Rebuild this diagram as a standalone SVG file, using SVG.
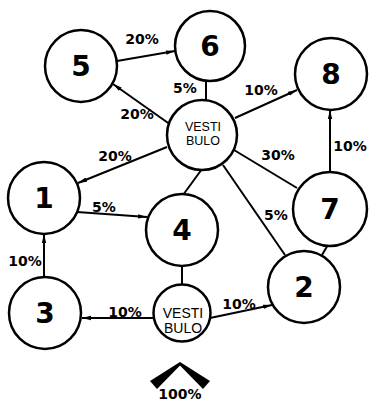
<svg xmlns="http://www.w3.org/2000/svg" width="369" height="403" viewBox="0 0 369 403">
<style>
.n{fill:#fff;stroke:#000;stroke-width:2.5}
.num{font-family:"DejaVu Sans",sans-serif;font-weight:bold;font-size:28px;text-anchor:middle;fill:#000}
.v{font-family:"Liberation Sans",Arial,sans-serif;font-size:12.5px;text-anchor:middle;fill:#000}
.v2{font-family:"Liberation Sans",Arial,sans-serif;font-size:14px;text-anchor:middle;fill:#000}
.l{font-family:"DejaVu Sans",sans-serif;font-weight:bold;font-size:14px;text-anchor:middle;fill:#000}
.c{stroke:#000;stroke-width:2;fill:none}
</style>
<defs>
<marker id="a" markerUnits="userSpaceOnUse" markerWidth="10" markerHeight="6" refX="9" refY="3" orient="auto">
<path d="M0,0.8 L9,3 L0,5.2 Z" fill="#000"/>
</marker>
</defs>
<g id="connectors">
<line class="c" x1="117" y1="61" x2="175" y2="51" marker-end="url(#a)"/>
<line class="c" x1="171" y1="125" x2="113" y2="84" marker-end="url(#a)"/>
<line class="c" x1="167" y1="147" x2="78" y2="183" marker-end="url(#a)"/>
<line class="c" x1="206" y1="100" x2="206" y2="81"/>
<line class="c" x1="235" y1="118" x2="297" y2="90" marker-end="url(#a)"/>
<line class="c" x1="234" y1="150" x2="297" y2="188"/>
<line class="c" x1="202" y1="169" x2="183" y2="195"/>
<line class="c" x1="223" y1="165" x2="285" y2="255"/>
<line class="c" x1="77" y1="212" x2="147" y2="217" marker-end="url(#a)"/>
<line class="c" x1="44" y1="277" x2="44" y2="234" marker-end="url(#a)"/>
<line class="c" x1="153" y1="318" x2="82" y2="318" marker-end="url(#a)"/>
<line class="c" x1="210" y1="318" x2="272" y2="305" marker-end="url(#a)"/>
<line class="c" x1="182" y1="266" x2="182" y2="285"/>
<line class="c" x1="330" y1="171" x2="330" y2="110" marker-end="url(#a)"/>
<line class="c" x1="329" y1="243" x2="322" y2="255"/>
</g>
<g id="labels">
<text class="l" x="142" y="44">20%</text>
<text class="l" x="137" y="119">20%</text>
<text class="l" x="115" y="161">20%</text>
<text class="l" x="185" y="93">5%</text>
<text class="l" x="261" y="95">10%</text>
<text class="l" x="278" y="160">30%</text>
<text class="l" x="350" y="151">10%</text>
<text class="l" x="104" y="212">5%</text>
<text class="l" x="25" y="266">10%</text>
<text class="l" x="125" y="317">10%</text>
<text class="l" x="239" y="309">10%</text>
<text class="l" x="276" y="220">5%</text>
</g>
<g id="node5"><circle class="n" cx="81" cy="66" r="36"/><text class="num" x="81" y="76">5</text></g>
<g id="node6"><circle class="n" cx="210" cy="46" r="35"/><text class="num" x="210" y="56">6</text></g>
<g id="node8"><circle class="n" cx="331" cy="74" r="36"/><text class="num" x="331" y="84">8</text></g>
<g id="vestibulo1"><circle class="n" cx="202" cy="135" r="35"/><text class="v" x="203" y="131">VESTI</text><text class="v" x="203" y="145">BULO</text></g>
<g id="node1"><circle class="n" cx="44" cy="198" r="36"/><text class="num" x="44" y="208">1</text></g>
<g id="node4"><circle class="n" cx="182" cy="230" r="36"/><text class="num" x="182" y="240">4</text></g>
<g id="node7"><circle class="n" cx="330" cy="209" r="37"/><text class="num" x="330" y="219">7</text></g>
<g id="node2"><circle class="n" cx="304" cy="287" r="36"/><text class="num" x="304" y="297">2</text></g>
<g id="node3"><circle class="n" cx="45" cy="313" r="36"/><text class="num" x="45" y="323">3</text></g>
<g id="vestibulo2"><circle class="n" cx="182" cy="313" r="28.5"/><text class="v2" x="183" y="318">VESTI</text><text class="v2" x="183" y="333">BULO</text></g>
<g id="entrance">
<polygon points="180,362 150,381 157,389 181,364.5" fill="#000"/>
<polygon points="180,362 210,381 203,389 179,364.5" fill="#000"/>
<text class="l" x="180" y="399">100%</text>
</g>
</svg>
